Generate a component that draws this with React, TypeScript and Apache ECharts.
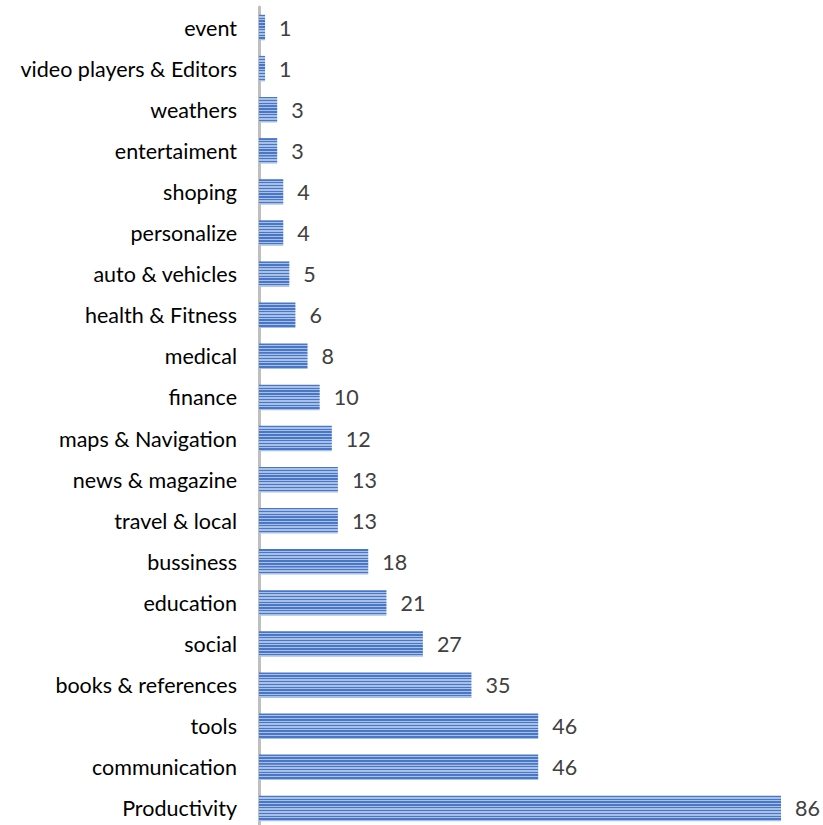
import React, { useEffect, useRef } from "react";
import * as echarts from "echarts";

const categories = [
  "Productivity", "communication", "tools", "books & references", "social",
  "education", "bussiness", "travel & local", "news & magazine", "maps & Navigation",
  "finance", "medical", "health & Fitness", "auto & vehicles", "personalize",
  "shoping", "entertaiment", "weathers", "video players & Editors", "event",
];
const values = [86, 46, 46, 35, 27, 21, 18, 13, 13, 12, 10, 8, 6, 5, 4, 4, 3, 3, 1, 1];

export default function App() {
  const ref = useRef<HTMLDivElement>(null);
  useEffect(() => {
    const chart = echarts.init(ref.current!, null, { renderer: "svg" });
    const stripes: any[] = [];
    const n = 9;
    for (let i = 0; i < n; i++) {
      const a = i / n, b = (i + 0.5) / n, c = (i + 1) / n;
      stripes.push({ offset: a, color: "#4A76C6" });
      stripes.push({ offset: b - 0.001, color: "#4A76C6" });
      stripes.push({ offset: b, color: "#A9C0E6" });
      stripes.push({ offset: c - 0.001, color: "#A9C0E6" });
    }
    chart.setOption({
      animation: false,
      grid: { left: 259, width: 522, top: 7, height: 822, containLabel: false },
      xAxis: {
        type: "value", min: 0, max: 86, show: false,
      },
      yAxis: {
        type: "category",
        data: categories,
        axisLine: { show: true, lineStyle: { color: "#BFBFBF", width: 3 } },
        axisTick: { show: false },
        axisLabel: { color: "#000", fontSize: 21.5, fontFamily: "Lato", margin: 22 },
      },
      series: [{
        type: "bar",
        data: values,
        barWidth: "62%",
        itemStyle: {
          color: new echarts.graphic.LinearGradient(0, 0, 0, 1, stripes),
        },
        label: {
          show: true, position: "right", distance: 14,
          color: "#404040", fontSize: 21.5, fontFamily: "Lato",
        },
      }],
    });
    return () => chart.dispose();
  }, []);
  return (
    <div style={{ width: 823, height: 825, position: "absolute", left: 0, top: 0, overflow: "hidden" }}>
      <div ref={ref} style={{ width: 823, height: 840 }} />
    </div>
  );
}
